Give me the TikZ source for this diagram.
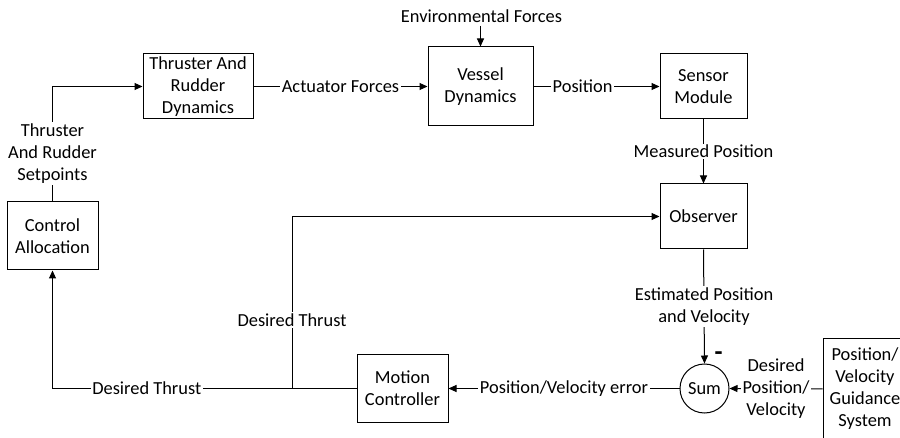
\documentclass[tikz,border=0pt]{standalone}
\usepackage{fontspec}
\setmainfont{Carlito}
\usetikzlibrary{arrows.meta}
\begin{document}
\begin{tikzpicture}[x=1pt,y=-1pt,
  every node/.style={font=\fontsize{18.4}{22}\selectfont, align=center},
  blk/.style={draw, line width=1pt, inner sep=0pt},
  lbl/.style={fill=white, inner sep=1.5pt},
  conn/.style={line width=1pt},
  arr/.style={conn, -{Triangle[length=8pt,width=7pt]}}]
\useasboundingbox (0,0) rectangle (900,438);
\node[blk, minimum width=110pt, minimum height=65pt] (trd) at (198,86.5) {Thruster And\\Rudder\\Dynamics};
\node[blk, minimum width=105pt, minimum height=79pt] (vd) at (480.5,86.5) {Vessel\\Dynamics};
\node[blk, minimum width=87pt, minimum height=65pt] (sm) at (703.5,86.5) {Sensor\\Module};
\node[blk, minimum width=87pt, minimum height=65pt] (obs) at (703.5,216.5) {Observer};
\node[blk, minimum width=91pt, minimum height=68pt] (ca) at (52.5,236) {Control\\Allocation};
\node[blk, minimum width=91pt, minimum height=67pt] (mc) at (402.5,388.5) {Motion\\Controller};
\node[blk, circle, minimum size=49pt] (sum) at (704.5,388.5) {Sum};
\begin{scope}
\clip (0,0) rectangle (900,438);
\node[blk, minimum width=84pt, minimum height=100pt] (gs) at (865,389) {Position/\\Velocity\\Guidance\\System};
\end{scope}
\node (env) at (481.5,16) {Environmental Forces};
\node[inner sep=0pt, font=\fontsize{26}{26}\selectfont\bfseries] (minus) at (718.5,356) {-};
% connectors
\draw[arr] (env.south -| vd.north) -- (vd.north);
\coordinate (c1) at (ca.north |- trd.west);
\draw[arr] (ca.north) -- node[lbl, pos=0.42] {Thruster\\And Rudder\\Setpoints} (c1) -- (trd.west);
\draw[arr] (trd.east) -- node[lbl] {Actuator Forces} (vd.west);
\draw[arr] (vd.east) -- node[lbl, pos=0.39] {Position} (sm.west);
\draw[arr] (sm.south) -- node[lbl] {Measured Position} (obs.north);
\draw[arr] (obs.south) -- node[lbl] {Estimated Position\\and Velocity} (sum.north);
\draw[arr] (gs.west) -- node[lbl] {Desired\\Position/\\Velocity} (sum.east);
\draw[arr] (sum.west) -- node[lbl] {Position/Velocity error} (mc.east);
\coordinate (c2) at (ca.south |- mc.west);
\draw[arr] (mc.west) -- node[lbl, pos=0.69] {Desired Thrust} (c2) -- (ca.south);
\coordinate (br) at (292,388.5);
\draw[arr] (br) -- node[lbl, pos=0.40] {Desired Thrust} (br |- obs.west) -- (obs.west);
\end{tikzpicture}
\end{document}
